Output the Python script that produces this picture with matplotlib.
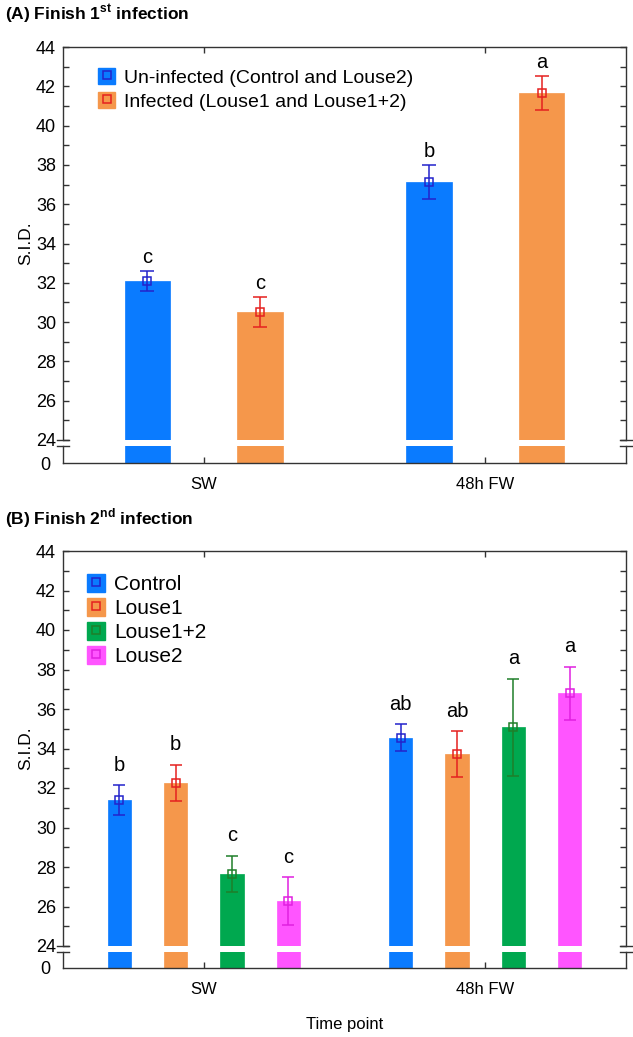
import matplotlib
matplotlib.use("Agg")
import matplotlib.pyplot as plt
from matplotlib.patches import Patch
from matplotlib.lines import Line2D
from matplotlib.ticker import MultipleLocator
import numpy as np

plt.rcParams['font.family'] = ['Liberation Sans', 'DejaVu Sans']
plt.rcParams['mathtext.fontset'] = 'custom'
plt.rcParams['mathtext.rm'] = 'Liberation Sans'
plt.rcParams['mathtext.bf'] = 'Liberation Sans:bold'

# ---- data ----
groups = ["SW", "48h FW"]

a_labels = ["Un-infected (Control and Louse2)", "Infected (Louse1 and Louse1+2)"]
a_means = [[32.1, 37.12], [30.53, 41.65]]
a_err = [[0.5, 0.87], [0.76, 0.86]]
a_letters = [["c", "b"], ["c", "a"]]

b_labels = ["Control", "Louse1", "Louse1+2", "Louse2"]
b_means = [[31.38, 34.55], [32.25, 33.72], [27.65, 35.07], [26.28, 36.8]]
b_err = [[0.76, 0.68], [0.93, 1.15], [0.93, 2.47], [1.2, 1.35]]
b_letters = [["b", "ab"], ["b", "ab"], ["c", "a"], ["c", "a"]]

bar_colors = ["#0a7bff", "#f5974b", "#00a84f", "#ff55ff"]
err_colors = ["#2323cc", "#e5211f", "#1f7f2a", "#e020e0"]
spine_col = "#333333"


def draw_panel(fig, rect_top, rect_bot, labels, means, errs, letters,
               offsets, width, capsize, letter_off, legend_pos, leg_fs,
               leg_sp, title, title_y):
    ax = fig.add_axes(rect_top)
    axl = fig.add_axes(rect_bot, sharex=ax)
    x = np.arange(1, len(groups) + 1)
    for i, lab in enumerate(labels):
        xs = x + offsets[i]
        m = np.array(means[i])
        e = np.array(errs[i])
        for a in (ax, axl):
            a.bar(xs, m, width, color=bar_colors[i], edgecolor=bar_colors[i],
                  linewidth=0.5, zorder=2)
        ax.errorbar(xs, m, yerr=e, fmt='s', mfc='none', mec=err_colors[i],
                    ecolor=err_colors[i], ms=6, mew=1.1, elinewidth=1.1,
                    capsize=capsize, capthick=1.1, zorder=3)
        for xx, hi, t in zip(xs, m + e, letters[i]):
            ax.text(xx, hi + letter_off, t, ha='center', va='center',
                    fontsize=14.5, color='black')

    ax.set_xlim(0.5, 2.5)
    ax.set_ylim(24, 44)
    axl.set_ylim(0, 1)
    ax.yaxis.set_major_locator(MultipleLocator(2))
    ax.yaxis.set_minor_locator(MultipleLocator(1))
    axl.set_yticks([0])
    axl.set_xticks(x)
    axl.set_xticklabels(groups, fontsize=12)

    ax.spines['bottom'].set_visible(False)
    axl.spines['top'].set_visible(False)
    for a in (ax, axl):
        for s in a.spines.values():
            s.set_color(spine_col)
            s.set_linewidth(1.0)
    ax.tick_params(axis='y', which='both', direction='in', right=True,
                   length=4, width=1, color=spine_col, labelsize=13, pad=5)
    ax.tick_params(axis='x', which='both', direction='in', top=True,
                   bottom=False, labelbottom=False, length=4, width=1,
                   color=spine_col)
    axl.tick_params(axis='y', direction='in', length=0, labelsize=13,
                    right=False, pad=9)
    axl.tick_params(axis='x', direction='in', length=4, width=1,
                    color=spine_col, pad=10)

    # break marks
    d = 0.011
    for xe in (0, 1):
        ax.plot([xe - d, xe + d], [0, 0], transform=ax.transAxes,
                color=spine_col, lw=1.0, clip_on=False)
        axl.plot([xe - d, xe + d], [1, 1], transform=axl.transAxes,
                 color=spine_col, lw=1.0, clip_on=False)

    ax.set_ylabel("S.I.D.", fontsize=12.5)
    ax.yaxis.set_label_coords(-0.053, 0.5)

    handles = [(Patch(facecolor=bar_colors[i], edgecolor=bar_colors[i]),
                Line2D([], [], marker='s', ls='none', mfc='none',
                       mec=err_colors[i], ms=6, mew=1.1))
               for i in range(len(labels))]
    ax.legend(handles, labels, loc='upper left', bbox_to_anchor=legend_pos,
              frameon=False, fontsize=leg_fs, handlelength=0.85,
              handleheight=0.9, handletextpad=0.45, labelspacing=leg_sp,
              borderaxespad=0)

    fig.text(0.008, title_y, title, fontsize=12.5, fontweight='bold',
             ha='left', va='center')
    return ax, axl


fig = plt.figure(figsize=(6.33, 10.37), dpi=100)

L, R = 63 / 633, 626 / 633
H = 1037

def rect(top_px, bot_px):
    return [L, 1 - bot_px / H, R - L, (bot_px - top_px) / H]

draw_panel(fig, rect(47, 440), rect(446, 463), a_labels, a_means, a_err,
           a_letters, [-0.2, 0.2], 0.163, 5.2, 0.68, (0.049, 0.967), 14,
           0.28, r"(A) Finish 1$^{\mathbf{st}}$ infection", 1 - 14 / H)

draw_panel(fig, rect(551, 946), rect(952, 968), b_labels, b_means,
           b_err, b_letters, [-0.3, -0.1, 0.1, 0.3], 0.083, 4.3,
           1.0, (0.028, 0.962), 15, 0.2,
           r"(B) Finish 2$^{\mathbf{nd}}$ infection", 1 - 518 / H)
fig.text((L + R) / 2, 1 - 1025 / H, "Time point", fontsize=12,
         ha='center', va='center')

fig.savefig("out.png", dpi=100)
